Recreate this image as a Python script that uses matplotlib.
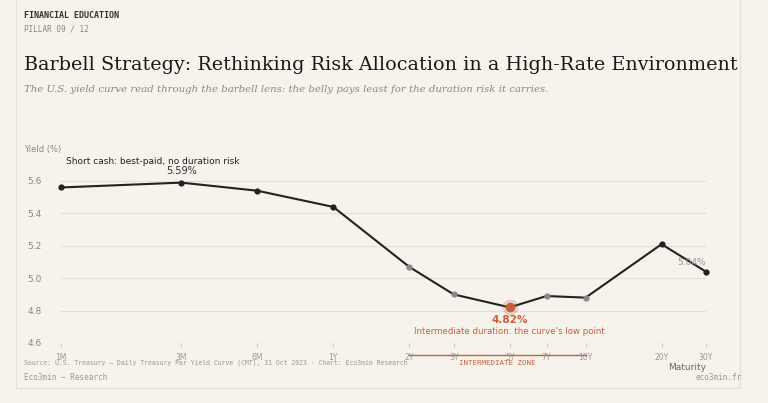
import math
import matplotlib
matplotlib.use("Agg")
import matplotlib.pyplot as plt
from matplotlib.patches import Rectangle

labels = ["1M","3M","6M","1Y","2Y","3Y","5Y","7Y","10Y","20Y","30Y"]
months = [1,3,6,12,24,36,60,84,120,240,360]
yields = [5.56,5.59,5.54,5.44,5.07,4.90,4.82,4.89,4.88,5.21,5.04]
inter = ["2Y","3Y","5Y","7Y","10Y"]

BG = "#f6f3ec"
ORANGE = "#c8603a"
fig = plt.figure(figsize=(7.68,4.03), dpi=100, facecolor=BG)
fig.patches.append(Rectangle((16/768, 15/403), 724/768, 1.2, transform=fig.transFigure,
                             fill=False, edgecolor="#e6e1d6", lw=1))
ax = fig.add_axes([61/768, 1-343/403, 645/768, 162/403])
ax.set_facecolor(BG)
ax.set_xscale("log")
ax.set_xlim(1, 360)
ax.set_ylim(4.6, 5.6)
for s in ax.spines.values(): s.set_visible(False)
ax.set_yticks([4.6,4.8,5.0,5.2,5.4,5.6])
ax.set_yticklabels([f"{v:.1f}" for v in [4.6,4.8,5.0,5.2,5.4,5.6]], fontsize=6.5, color="#888")
ax.tick_params(axis="y", length=0, pad=14)
ax.grid(axis="y", color="#e4dfd4", lw=0.8)
ax.set_xticks(months)
ax.set_xticks([], minor=True)
ax.set_xticklabels(labels, fontsize=5.5, color="#999")
ax.tick_params(axis="x", length=3, color="#ccc", pad=4)

ax.plot(months, yields, color="#222", lw=1.5, clip_on=False, zorder=3)
for m, y, l in zip(months, yields, labels):
    if l == "5Y":
        ax.scatter([m],[y], s=110, color=ORANGE, alpha=0.2, zorder=4, clip_on=False)
        ax.scatter([m],[y], s=35, color=ORANGE, zorder=5, clip_on=False)
    else:
        ax.scatter([m],[y], s=12, color="#888" if l in inter else "#222", zorder=4, clip_on=False)

ax.text(3, 5.59+0.04, "5.59%", ha="center", va="bottom", fontsize=7, color="#333")
ax.text(1.05, 5.69, "Short cash: best-paid, no duration risk", fontsize=6.5, color="#222", va="bottom")
ax.text(60, 4.82-0.05, "4.82%", ha="center", va="top", fontsize=7.5, color=ORANGE, fontweight="bold")
ax.text(60, 4.70, "Intermediate duration: the curve's low point", ha="center", va="top", fontsize=6.2, color=ORANGE)
ax.text(360, 5.04+0.03, "5.04%", ha="right", va="bottom", fontsize=6.5, color="#999")

fig.text(61/768-0.048, 1-152/403, "Yield (%)", fontsize=6, color="#888")
fig.text(706/768, 1-367/403, "Maturity", fontsize=6.5, color="#666", ha="right", va="center")
fx0 = 61/768 + (645/768)*(math.log(24)/math.log(360))
fx1 = 61/768 + (645/768)*(math.log(120)/math.log(360))
fig.add_artist(plt.Line2D([fx0, fx1], [1-355/403]*2, color=ORANGE, lw=1))
fig.text((fx0+fx1)/2, 1-363/403, "INTERMEDIATE ZONE", fontsize=5.3, color=ORANGE, ha="center",
         va="center", family="DejaVu Sans Mono")

fig.text(24/768, 1-16/403, "FINANCIAL EDUCATION", fontsize=6, fontweight="bold", color="#333",
         family="DejaVu Sans Mono", va="center")
fig.text(24/768, 1-29/403, "PILLAR 09 / 12", fontsize=5.5, color="#888", family="DejaVu Sans Mono", va="center")
fig.text(24/768, 1-65/403, "Barbell Strategy: Rethinking Risk Allocation in a High-Rate Environment",
         fontsize=13.8, color="#1a1a1a", family="DejaVu Serif", va="center")
fig.text(24/768, 1-89/403, "The U.S. yield curve read through the barbell lens: the belly pays least for the duration risk it carries.",
         fontsize=7.3, color="#888", family="DejaVu Serif", style="italic", va="center")
fig.text(24/768, 1-363/403, "Source: U.S. Treasury — Daily Treasury Par Yield Curve (CMT), 31 Oct 2023 · Chart: Eco3min Research",
         fontsize=4.7, color="#999", family="DejaVu Sans Mono", va="center")
fig.text(24/768, 1-377/403, "Eco3min — Research", fontsize=5.5, color="#999", family="DejaVu Sans Mono", va="center")
fig.text(742/768, 1-377/403, "eco3min.fr", fontsize=5.5, color="#999", family="DejaVu Sans Mono", va="center", ha="right")

fig.savefig("out.png", dpi=100, facecolor=BG)
